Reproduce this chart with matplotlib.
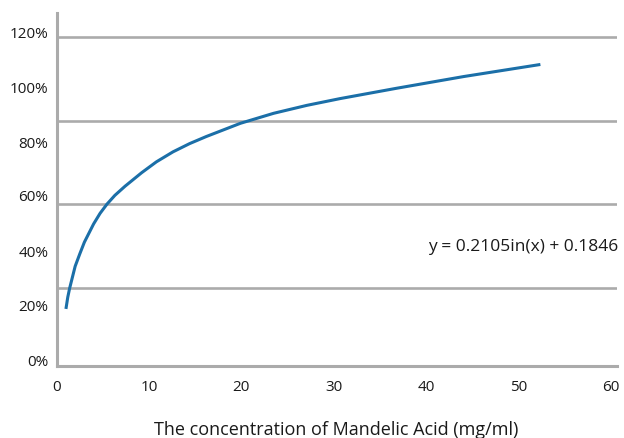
import matplotlib
matplotlib.use("Agg")
import matplotlib.pyplot as plt

# data
conc = [1.0, 1.2, 1.4, 2.0, 2.5, 3.0, 4.0, 4.7, 5.44, 6.3, 7.4, 9.2, 10.8, 12.6, 14.4, 16.2, 19.9, 23.5, 27.1, 30.7, 36.8, 44.1, 52.4]
ratio = [0.185, 0.225, 0.255, 0.330, 0.372, 0.412, 0.474, 0.510, 0.541, 0.571, 0.602, 0.648, 0.685, 0.719, 0.747, 0.771, 0.816, 0.850, 0.877, 0.900, 0.935, 0.975, 1.016]
x_ticks = [0, 10, 20, 30, 40, 50, 60]
y_labels = ["0%", "20%", "40%", "60%", "80%", "100%", "120%"]
equation = "y = 0.2105in(x) + 0.1846"
x_title = "The concentration of Mandelic Acid (mg/ml)"

# layout (as drawn in the reference)
y_label_pos = [0.011, 0.195, 0.379, 0.569, 0.750, 0.938, 1.125]
grid_pos = [0.255, 0.541, 0.825, 1.110]

plt.rcParams['font.family'] = ['Open Sans', 'DejaVu Sans']
W, H = 624, 438
fig = plt.figure(figsize=(W / 100, H / 100), dpi=100)
ax = fig.add_axes([56.7 / W, (H - 365.7) / H, 560.3 / W, 353 / H])
ax.set_xlim(0, 60.7)
ax.set_ylim(-0.008, 1.192)

grey = '#ababab'
for g in grid_pos:
    ax.axhline(g, color=grey, lw=1.9, zorder=1)
ax.plot(conc, ratio, color='#1b6fa8', lw=2.2, zorder=3, solid_capstyle='butt', solid_joinstyle='round')

for s in ['top', 'right']:
    ax.spines[s].set_visible(False)
for s in ['left', 'bottom']:
    ax.spines[s].set_color(grey)
    ax.spines[s].set_linewidth(2.2)

ax.set_xticks(x_ticks)
ax.set_xticklabels([str(t) for t in x_ticks])
ax.set_yticks(y_label_pos)
ax.set_yticklabels(y_labels)
ax.tick_params(axis='both', length=0, labelsize=11, colors='#1a1a1a')
ax.tick_params(axis='x', pad=10)
ax.tick_params(axis='y', pad=6)

ax.text(40.2, 0.396, equation, fontsize=12.5, color='#1a1a1a', ha='left', va='center')
fig.text(336 / W, (H - 430) / H, x_title, fontsize=13, color='#1a1a1a', ha='center', va='center')

fig.savefig('out.png', dpi=100)
